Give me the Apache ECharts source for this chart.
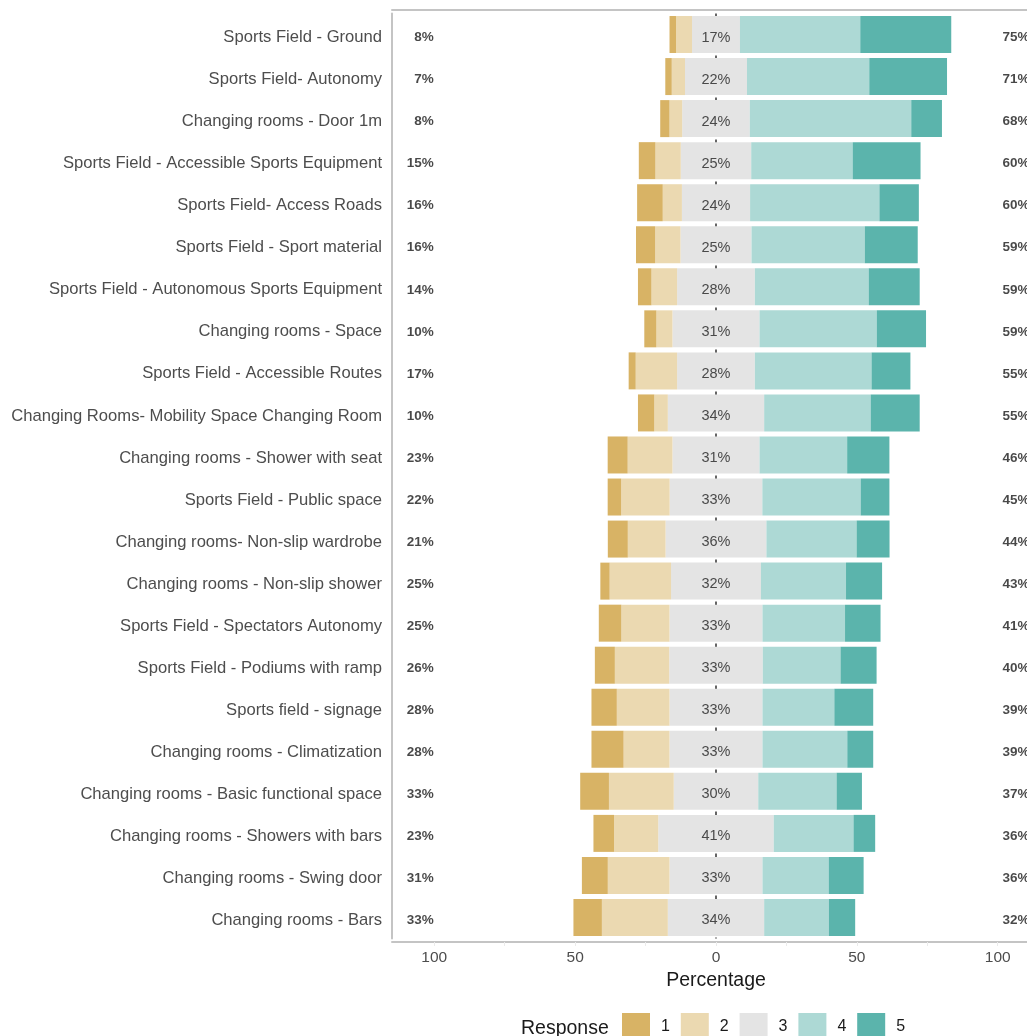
<!DOCTYPE html>
<html>
<head>
<meta charset="utf-8">
<script src="https://cdn.jsdelivr.net/npm/echarts@6/dist/echarts.min.js"></script>
<style>
  html, body { margin: 0; padding: 0; background: #fff; }
  #main { width: 1027px; height: 1036px; }
</style>
</head>
<body>
<div id="main"></div>
<script>
// items, top to bottom
const categories = [
  'Sports Field - Ground',
  'Sports Field- Autonomy',
  'Changing rooms - Door 1m',
  'Sports Field - Accessible Sports Equipment',
  'Sports Field- Access Roads',
  'Sports Field - Sport material',
  'Sports Field - Autonomous Sports Equipment',
  'Changing rooms - Space',
  'Sports Field - Accessible Routes',
  'Changing Rooms- Mobility Space Changing Room',
  'Changing rooms - Shower with seat',
  'Sports Field - Public space',
  'Changing rooms- Non-slip wardrobe',
  'Changing rooms - Non-slip shower',
  'Sports Field - Spectators Autonomy',
  'Sports Field - Podiums with ramp',
  'Sports field - signage',
  'Changing rooms - Climatization',
  'Changing rooms - Basic functional space',
  'Changing rooms - Showers with bars',
  'Changing rooms - Swing door',
  'Changing rooms - Bars'
];

// share of each response (%)
const resp1 = [2.3, 2.3, 3.3, 5.9, 9.1, 6.8, 4.8, 4.3, 2.5, 5.8, 7.1, 4.8, 7.1, 3.3, 8.0, 7.1, 9.0, 11.4, 10.2, 7.3, 9.2, 10.1];
const resp2 = [5.7, 4.7, 4.5, 9.0, 6.8, 9.0, 9.1, 5.7, 14.7, 4.8, 15.9, 17.2, 13.4, 21.8, 17.1, 19.3, 18.7, 16.3, 23.0, 15.7, 21.9, 23.4];
const resp3 = [17, 22, 24, 25, 24.2, 25.2, 27.6, 30.9, 27.6, 34.2, 30.9, 32.9, 35.8, 31.9, 33, 33.2, 33, 33, 30, 41, 33, 34.2];
const resp4 = [42.7, 43.4, 57.3, 36, 45.9, 40.2, 40.4, 41.6, 41.4, 37.8, 31.1, 34.9, 32.0, 30.2, 29.3, 27.6, 25.5, 30.1, 27.8, 28.3, 23.5, 23.0];
const resp5 = [32.3, 27.6, 10.9, 24.1, 14.0, 18.8, 18.1, 17.5, 13.8, 17.4, 15.0, 10.2, 11.7, 12.8, 12.6, 12.8, 13.8, 9.2, 9.0, 7.7, 12.4, 9.3];

// printed percentages
const lowPct  = [8, 7, 8, 15, 16, 16, 14, 10, 17, 10, 23, 22, 21, 25, 25, 26, 28, 28, 33, 23, 31, 33];
const midPct  = [17, 22, 24, 25, 24, 25, 28, 31, 28, 34, 31, 33, 36, 32, 33, 33, 33, 33, 30, 41, 33, 34];
const highPct = [75, 71, 68, 60, 60, 59, 59, 59, 55, 55, 46, 45, 44, 43, 41, 40, 39, 39, 37, 36, 36, 32];

const responses = ['1', '2', '3', '4', '5'];
const colors = ['#d8b365', '#ebd9b1', '#e4e4e4', '#add9d5', '#5bb4ac'];

const xTicks = [-100, -75, -50, -25, 0, 25, 50, 75, 100];
const xLabels = [-100, -50, 0, 50, 100];

const font = '"Liberation Sans", Arial, sans-serif';
const axisGrey = '#c4c4c4';

function bar(name, data, color, extra) {
  return Object.assign({
    name: name,
    type: 'bar',
    stack: 'likert',
    barWidth: 37,
    data: data,
    itemStyle: { color: color },
    emphasis: { disabled: true },
    z: 2
  }, extra || {});
}

function textSeries(x, pct, pos, style) {
  return {
    type: 'scatter',
    data: pct.map((v, i) => [x, i, v]),
    symbolSize: 1,
    itemStyle: { color: 'rgba(0,0,0,0)' },
    clip: false,
    z: 5,
    label: Object.assign({
      show: true,
      position: pos,
      distance: 0,
      offset: [0, 3],
      fontFamily: font,
      formatter: p => p.value[2] + '%'
    }, style),
    silent: true
  };
}

const chart = echarts.init(document.getElementById('main'));

chart.setOption({
  animation: false,
  backgroundColor: '#fff',
  textStyle: { fontFamily: font },
  title: {
    text: 'Response',
    left: 521,
    top: 1019,
    padding: 0,
    textStyle: { fontFamily: font, fontSize: 19.5, fontWeight: 'normal', color: '#1a1a1a' }
  },
  legend: {
    data: responses,
    left: 622,
    top: 1013,
    padding: 0,
    itemWidth: 28,
    itemHeight: 28,
    itemGap: 10.9,
    icon: 'rect',
    textStyle: { fontFamily: font, fontSize: 16, color: '#1a1a1a', padding: [2, 0, 0, 6] }
  },
  grid: {
    left: 392,
    right: -13,
    top: 13.5,
    bottom: 97.5,
    containLabel: false,
    outerBoundsMode: 'none'
  },
  xAxis: [
    {
      type: 'value',
      min: -115,
      max: 115,
      position: 'bottom',
      offset: 3.5,
      name: 'Percentage',
      nameLocation: 'middle',
      nameGap: 20,
      nameTextStyle: { fontFamily: font, fontSize: 19.5, color: '#1a1a1a' },
      axisLine: { show: true, onZero: false, lineStyle: { color: axisGrey, width: 2 } },
      axisTick: { show: true, customValues: xTicks, length: 4, lineStyle: { color: '#ebebeb' } },
      axisLabel: {
        customValues: xLabels,
        formatter: v => String(Math.abs(v)),
        fontFamily: font,
        fontSize: 15.5,
        color: '#4d4d4d',
        margin: 8
      },
      splitLine: { show: false }
    },
    {
      type: 'value',
      min: -115,
      max: 115,
      position: 'top',
      offset: 3.5,
      axisLine: { show: true, onZero: false, lineStyle: { color: axisGrey, width: 2 } },
      axisTick: { show: false },
      axisLabel: { show: false },
      splitLine: { show: false }
    }
  ],
  yAxis: {
    type: 'category',
    inverse: true,
    data: categories,
    axisLine: { show: true, onZero: false, lineStyle: { color: axisGrey, width: 2 } },
    axisTick: { show: false },
    axisLabel: {
      margin: 10,
      formatter: v => '{a|' + v + '}',
      rich: {
        a: { fontFamily: font, fontSize: 16.6, color: '#4d4d4d', padding: [6, 0, 0, 0] }
      }
    },
    splitLine: { show: false }
  },
  series: [
    bar('3', resp3.map(v => -v / 2), colors[2], {
      markLine: {
        silent: true,
        symbol: 'none',
        z: 1,
        label: { show: false },
        lineStyle: { color: '#333', type: [4, 3], width: 1.5 },
        data: [{ xAxis: 0 }]
      }
    }),
    bar('3', resp3.map(v => v / 2), colors[2]),
    bar('2', resp2.map(v => -v), colors[1]),
    bar('1', resp1.map(v => -v), colors[0]),
    bar('4', resp4, colors[3]),
    bar('5', resp5, colors[4]),
    textSeries(0, midPct, 'inside', { fontSize: 14.5, color: '#222' }),
    textSeries(-100, lowPct, 'left', { fontSize: 13.5, fontWeight: 'bold', color: '#1a1a1a' }),
    textSeries(101.5, highPct, 'right', { fontSize: 13.5, fontWeight: 'bold', color: '#1a1a1a' })
  ]
});
</script>
</body>
</html>
